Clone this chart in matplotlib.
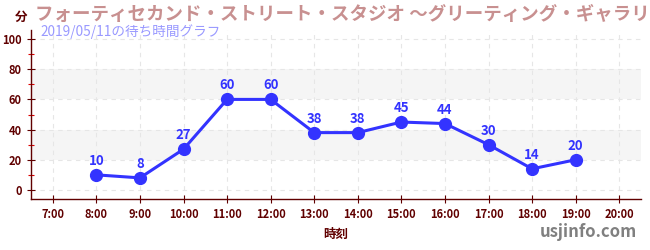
import matplotlib
matplotlib.use("Agg")
import matplotlib.pyplot as plt
from matplotlib.ticker import MultipleLocator

plt.rcParams['font.family'] = ['Noto Sans CJK JP', 'DejaVu Sans']

hours = [8, 9, 10, 11, 12, 13, 14, 15, 16, 17, 18, 19]
waits = [10, 8, 27, 60, 60, 38, 38, 45, 44, 30, 14, 20]
tick_hours = list(range(7, 21))
tick_labels = [f"{h}:00" for h in tick_hours]
title = "フォーティセカンド・ストリート・スタジオ ～グリーティング・ギャラリ"
subtitle = "2019/05/11の待ち時間グラフ"

fig = plt.figure(figsize=(6.5, 2.5), dpi=100)
ax = fig.add_axes([31/650, 1-199/250, 610/650, 169/250])
ax.set_xlim(6.5, 20.5)
ax.set_ylim(-6, 106)

for lo, hi in [(20, 40), (60, 80)]:
    ax.axhspan(lo, hi, color='#f5f5f5', zorder=0, lw=0)

ax.set_xticks(tick_hours)
ax.set_xticklabels(tick_labels)
ax.yaxis.set_major_locator(MultipleLocator(20))
ax.yaxis.set_minor_locator(MultipleLocator(10))
ax.grid(True, which='major', color='#e6e6e6', linestyle=(0, (4, 4)), lw=0.8, zorder=0)

for s in ['top', 'right']:
    ax.spines[s].set_visible(False)
for s in ['left', 'bottom']:
    ax.spines[s].set_color('#600000')
    ax.spines[s].set_linewidth(1.0)

ax.tick_params(axis='both', which='major', colors='#600000', direction='inout',
               length=6, width=0.8, labelsize=8)
ax.tick_params(axis='y', which='minor', colors='#dd0000', direction='inout', length=4, width=0.8)
for lab in ax.get_xticklabels() + ax.get_yticklabels():
    lab.set_fontweight('bold')
    lab.set_color('#600000')

ax.plot(hours, waits, color='#3333ff', lw=2.2, marker='o', markersize=8.5, zorder=3)
for h, w in zip(hours, waits):
    ax.annotate(str(w), (h, w), xytext=(0, 5), textcoords='offset points',
                ha='center', va='bottom', color='#3333ff', fontsize=9.5, fontweight='bold')

ax.set_xlabel("時刻", color='#600000', fontsize=9, fontweight='bold', labelpad=5)

fig.text(35/650, 1-14/250, title, color='#c89090', fontsize=13.3, fontweight='bold',
         ha='left', va='center')
fig.text(15/650, 1-17/250, "分", color='#600000', fontsize=9, fontweight='bold',
         ha='left', va='center')
fig.text(40/650, 1-32/250, subtitle, color='#9999ff', fontsize=9.8, ha='left', va='center')
fig.text(637/650, 1-232/250, "usjinfo.com", color='#808080', fontsize=12, fontweight='bold',
         ha='right', va='center')

fig.savefig("out.png", dpi=100)
